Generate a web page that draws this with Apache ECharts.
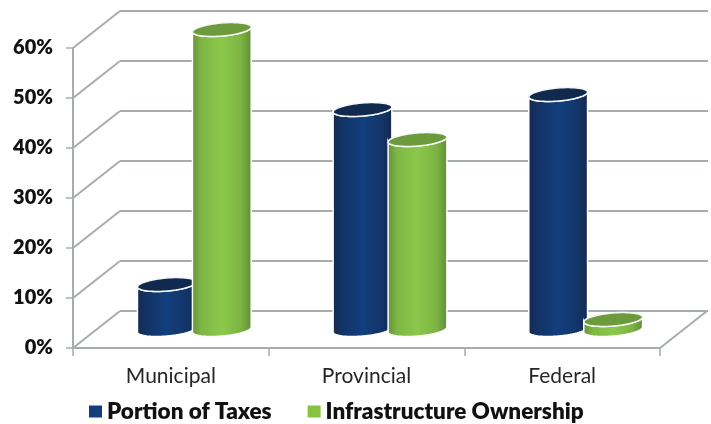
<!DOCTYPE html>
<html>
<head>
<meta charset="utf-8">
<style>html,body{margin:0;padding:0;background:#fff}#chart{width:711px;height:424px}</style>
<script src="https://cdn.jsdelivr.net/npm/echarts@6/dist/echarts.min.js"></script>
</head>
<body>
<div id="chart"></div>
<script>
// Shares of taxes and infrastructure ownership by level of government
const categories = ['Municipal', 'Provincial', 'Federal'];
const portionOfTaxes = [9, 44, 47];
const infrastructureOwnership = [60, 38, 2];
const yTicks = [0, 10, 20, 30, 40, 50, 60];

// Perspective of the box: how far the back wall sits from the front plane
const depthX = 47, depthY = 37;
const axisGray = '#a7acae';
const labelFont = 'Lato, "Open Sans", sans-serif';

// Points of a tilted ellipse, between two parametric angles
function arc(cx, cy, rx, ry, tilt, from, to, steps) {
  const pts = [];
  for (let i = 0; i <= steps; i++) {
    const t = from + (to - from) * i / steps;
    const ex = rx * Math.cos(t), ey = ry * Math.sin(t);
    pts.push([cx + ex * Math.cos(tilt) - ey * Math.sin(tilt),
              cy + ex * Math.sin(tilt) + ey * Math.cos(tilt)]);
  }
  return pts;
}

// One cylinder per data item, standing halfway into the box
function cylinder(side, bodyStops, topColor) {
  return function (params, api) {
    const cat = api.value(0), val = api.value(1);
    const base = api.coord([cat, 0]);
    const top = api.coord([cat, val]);
    const rx = 29.5, ry = 6.5, tilt = -5 * Math.PI / 180;
    const cx = base[0] + depthX / 2 + side * 27.5;
    const by = base[1] - depthY / 2;
    const ty = top[1] - depthY / 2;
    const frontBottom = arc(cx, by, rx, ry, tilt, 0, Math.PI, 32);
    const frontTop = arc(cx, ty, rx, ry, tilt, Math.PI, 0, 32);
    return {
      type: 'group',
      children: [
        {
          type: 'polygon',
          shape: { points: frontBottom.concat(frontTop) },
          style: {
            fill: new echarts.graphic.LinearGradient(0, 0, 1, 0, bodyStops),
            stroke: '#ffffff',
            lineWidth: 1.5
          }
        },
        {
          type: 'polygon',
          shape: { points: arc(cx, ty, rx, ry, tilt, 0, Math.PI * 2, 64) },
          style: { fill: topColor, stroke: '#f4f7f2', lineWidth: 1.6 }
        }
      ]
    };
  };
}

const blueStops = [
  { offset: 0, color: '#16294f' }, { offset: 0.18, color: '#123468' },
  { offset: 0.5, color: '#123f7e' }, { offset: 0.82, color: '#123568' },
  { offset: 1, color: '#16294f' }
];
const greenStops = [
  { offset: 0, color: '#63933a' }, { offset: 0.16, color: '#7eb744' },
  { offset: 0.5, color: '#8bc84b' }, { offset: 0.82, color: '#7cb342' },
  { offset: 1, color: '#5f8c38' }
];

const chart = echarts.init(document.getElementById('chart'), null, { renderer: 'canvas' });
chart.setOption({
  animation: false,
  backgroundColor: '#ffffff',
  grid: [
    { left: 73, right: 51, top: 48, bottom: 76 },
    { left: 73 + depthX, right: 51 - depthX - 1, top: 48 - depthY, bottom: 76 + depthY }
  ],
  legend: {
    data: ['Portion of Taxes', 'Infrastructure Ownership'],
    left: 84,
    top: 395,
    itemWidth: 13,
    itemHeight: 12,
    itemGap: 36,
    itemStyle: { borderWidth: 0 },
    icon: 'rect',
    textStyle: { fontFamily: labelFont, fontWeight: 800, fontSize: 22.5, color: '#111111' }
  },
  xAxis: [
    {
      type: 'category',
      data: categories,
      gridIndex: 0,
      axisLine: { lineStyle: { color: axisGray, width: 2 } },
      axisTick: { show: true, length: 8, lineStyle: { color: axisGray, width: 1.5 } },
      axisLabel: { margin: 18, fontFamily: labelFont, fontSize: 21, color: '#262626' }
    },
    {
      type: 'category',
      data: categories,
      gridIndex: 1,
      show: false
    }
  ],
  yAxis: [
    {
      type: 'value',
      gridIndex: 0,
      min: 0,
      max: 60,
      interval: 10,
      axisLine: { show: true, lineStyle: { color: axisGray, width: 2 } },
      axisTick: { show: true, length: 7, lineStyle: { color: axisGray, width: 1.5 } },
      splitLine: { show: false },
      axisLabel: {
        margin: 20,
        formatter: '{value}%',
        fontFamily: labelFont,
        fontWeight: 800,
        fontSize: 20,
        color: '#111111'
      }
    },
    {
      type: 'value',
      gridIndex: 1,
      min: 0,
      max: 60,
      interval: 10,
      axisLine: { show: false },
      axisTick: { show: false },
      axisLabel: { show: false },
      splitLine: { show: true, lineStyle: { color: axisGray, width: 2 } }
    }
  ],
  series: [
    {
      // Diagonals joining the front plane to the back wall
      type: 'custom',
      name: 'walls',
      silent: true,
      xAxisIndex: 0,
      yAxisIndex: 0,
      data: yTicks.map(v => [0, v]),
      clip: false,
      z: 1,
      renderItem: function (params, api) {
        const v = api.value(1);
        const p = api.coord([0, v]);
        const x = params.coordSys.x;
        const lines = [{
          type: 'line',
          shape: { x1: x, y1: p[1], x2: x + depthX, y2: p[1] - depthY },
          style: { stroke: axisGray, lineWidth: 2 }
        }];
        if (v === 0) {
          const xr = x + params.coordSys.width;
          lines.push({
            type: 'line',
            shape: { x1: xr, y1: p[1], x2: xr + depthX, y2: p[1] - depthY },
            style: { stroke: axisGray, lineWidth: 2 }
          });
        }
        return { type: 'group', children: lines };
      }
    },
    {
      type: 'custom',
      name: 'Portion of Taxes',
      itemStyle: { color: '#123f7a' },
      xAxisIndex: 0,
      yAxisIndex: 0,
      clip: false,
      z: 3,
      data: portionOfTaxes.map((v, i) => [i, v]),
      renderItem: cylinder(-1, blueStops, '#11284f')
    },
    {
      type: 'custom',
      name: 'Infrastructure Ownership',
      itemStyle: { color: '#86c440' },
      xAxisIndex: 0,
      yAxisIndex: 0,
      clip: false,
      z: 4,
      data: infrastructureOwnership.map((v, i) => [i, v]),
      renderItem: cylinder(1, greenStops, '#6c9a3c')
    }
  ]
});
</script>
</body>
</html>
